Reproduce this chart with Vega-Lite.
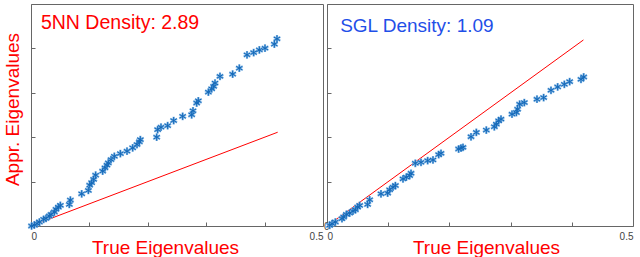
{
  "$schema": "https://vega.github.io/schema/vega-lite/v6.json",
  "padding": {"left": 2, "top": 3, "right": 0, "bottom": 0},
  "bounds": "flush",
  "spacing": 4,
  "background": "white",
  "config": {
    "view": {"stroke": "#666666", "strokeWidth": 1},
    "axis": {
      "grid": false,
      "domain": false,
      "tickSize": -4,
      "tickColor": "#666666",
      "labelFont": "Liberation Sans",
      "labelFontSize": 10,
      "labelColor": "#444444",
      "titleFont": "Liberation Sans",
      "titleFontSize": 19,
      "titleFontWeight": "normal",
      "titleColor": "#ff0000"
    },
    "axisX": {"labelPadding": 9}
  },
  "datasets": {
    "left": [
      {"x":0.001,"y":0.0},{"x":0.0057,"y":0.0045},{"x":0.0103,"y":0.0105},{"x":0.0143,"y":0.018},
      {"x":0.0217,"y":0.030},{"x":0.0257,"y":0.034},{"x":0.0314,"y":0.045},{"x":0.0342,"y":0.052},
      {"x":0.040,"y":0.063},{"x":0.0428,"y":0.075},{"x":0.0468,"y":0.085},{"x":0.0502,"y":0.093},
      {"x":0.0656,"y":0.097},{"x":0.0674,"y":0.117},{"x":0.0868,"y":0.145},{"x":0.0982,"y":0.160},
      {"x":0.1005,"y":0.184},{"x":0.1039,"y":0.195},{"x":0.1073,"y":0.210},{"x":0.1107,"y":0.229},
      {"x":0.1227,"y":0.247},{"x":0.1267,"y":0.262},{"x":0.1301,"y":0.274},{"x":0.1324,"y":0.284},
      {"x":0.137,"y":0.299},{"x":0.1427,"y":0.314},{"x":0.153,"y":0.326},{"x":0.1644,"y":0.337},
      {"x":0.1741,"y":0.352},{"x":0.1815,"y":0.367},{"x":0.1855,"y":0.379},{"x":0.1872,"y":0.389},
      {"x":0.2152,"y":0.400},{"x":0.2169,"y":0.434},{"x":0.2226,"y":0.445},{"x":0.234,"y":0.452},
      {"x":0.2443,"y":0.475},{"x":0.2597,"y":0.494},{"x":0.2751,"y":0.501},{"x":0.2774,"y":0.519},
      {"x":0.2837,"y":0.554},{"x":0.2865,"y":0.564},{"x":0.3037,"y":0.603},{"x":0.3094,"y":0.618},
      {"x":0.3128,"y":0.629},{"x":0.3151,"y":0.644},{"x":0.3236,"y":0.674},{"x":0.3453,"y":0.684},
      {"x":0.3567,"y":0.711},{"x":0.3699,"y":0.771},{"x":0.3813,"y":0.781},{"x":0.391,"y":0.793},
      {"x":0.4007,"y":0.801},{"x":0.4167,"y":0.819},{"x":0.4212,"y":0.843}
    ],
    "right": [
      {"x":0.0044,"y":0.0015},{"x":0.0082,"y":0.0052},{"x":0.0136,"y":0.009},{"x":0.0245,"y":0.0164},
      {"x":0.0272,"y":0.0202},{"x":0.0316,"y":0.0262},{"x":0.037,"y":0.0291},{"x":0.0425,"y":0.0336},
      {"x":0.0463,"y":0.0366},{"x":0.0501,"y":0.0426},{"x":0.0534,"y":0.0463},{"x":0.0664,"y":0.0486},
      {"x":0.0697,"y":0.059},{"x":0.0882,"y":0.0725},{"x":0.0991,"y":0.074},{"x":0.1024,"y":0.0815},
      {"x":0.1078,"y":0.0874},{"x":0.1117,"y":0.0912},{"x":0.1242,"y":0.1061},{"x":0.1296,"y":0.1099},
      {"x":0.1351,"y":0.1136},{"x":0.1373,"y":0.1188},{"x":0.1443,"y":0.1413},{"x":0.1536,"y":0.1435},
      {"x":0.1645,"y":0.1472},{"x":0.1732,"y":0.1487},{"x":0.1825,"y":0.1607},{"x":0.1863,"y":0.1637},
      {"x":0.2151,"y":0.1734},{"x":0.219,"y":0.1756},{"x":0.2222,"y":0.1771},{"x":0.2353,"y":0.201},
      {"x":0.244,"y":0.2108},{"x":0.2603,"y":0.216},{"x":0.2734,"y":0.2235},{"x":0.2767,"y":0.2294},
      {"x":0.2805,"y":0.2369},{"x":0.2843,"y":0.2407},{"x":0.3023,"y":0.2519},{"x":0.3094,"y":0.2556},
      {"x":0.3115,"y":0.2631},{"x":0.3148,"y":0.2743},{"x":0.3224,"y":0.278},{"x":0.3431,"y":0.2855},
      {"x":0.354,"y":0.2892},{"x":0.366,"y":0.3057},{"x":0.3769,"y":0.3132},{"x":0.3878,"y":0.3191},
      {"x":0.3965,"y":0.3251},{"x":0.415,"y":0.3303},{"x":0.4194,"y":0.3356}
    ],
    "lineL": [{"x":0,"y":0},{"x":0.4224,"y":0.4224}],
    "lineR": [{"x":0,"y":0},{"x":0.419,"y":0.419}],
    "labelL": [{"x":0.017,"y":0.887,"label":"5NN Density: 2.89"}],
    "labelR": [{"x":0.0215,"y":0.437,"label":"SGL Density: 1.09"}]
  },
  "hconcat": [
    {
      "width": 292,
      "height": 222,
      "encoding": {
        "x": {"field":"x","type":"quantitative","scale":{"domain":[0,0.5]},
              "axis":{"values":[0,0.1,0.2,0.3,0.4,0.5],"labelExpr":"datum.value == 0 ? '0' : datum.value == 0.5 ? '0.5' : ''","title":"True Eigenvalues","titleBaseline":"alphabetic","titleY":27,"titleX":134}},
        "y": {"field":"y","type":"quantitative","scale":{"domain":[0,1]},
              "axis":{"values":[0,0.2,0.4,0.6,0.8,1],"labels":false,"title":"Appr. Eigenvalues","titleBaseline":"alphabetic","titleX":-13,"titleY":105}}
      },
      "layer": [
        {"data":{"name":"lineL"},"mark":{"type":"line","color":"#ff0000","strokeWidth":1}},
        {"data":{"name":"left"},"mark":{"type":"point","shape":"M0,-1L0,1M-0.87,-0.5L0.87,0.5M-0.87,0.5L0.87,-0.5","filled":false,"stroke":"#7fb4e4","strokeWidth":2.2,"size":60,"opacity":1}},
        {"data":{"name":"left"},"mark":{"type":"point","shape":"M0,-1L0,1M-0.87,-0.5L0.87,0.5M-0.87,0.5L0.87,-0.5","filled":false,"stroke":"#1368b8","strokeWidth":1,"size":50,"opacity":1}},
        {"data":{"name":"labelL"},"mark":{"type":"text","align":"left","baseline":"alphabetic","font":"Liberation Sans","fontSize":19.5,"color":"#ff0000"},"encoding":{"text":{"field":"label"}}}
      ]
    },
    {
      "width": 306,
      "height": 222,
      "encoding": {
        "x": {"field":"x","type":"quantitative","scale":{"domain":[0,0.5]},
              "axis":{"values":[0,0.1,0.2,0.3,0.4,0.5],"labelExpr":"datum.value == 0 ? '0' : datum.value == 0.5 ? '0.5' : ''","title":"True Eigenvalues","titleBaseline":"alphabetic","titleY":27,"titleX":159}},
        "y": {"field":"y","type":"quantitative","scale":{"domain":[0,0.5]},
              "axis":{"values":[0,0.1,0.2,0.3,0.4,0.5],"labelExpr":"datum.value == 0 ? '0' : ''","title":null,"labelPadding":2}}
      },
      "layer": [
        {"data":{"name":"lineR"},"mark":{"type":"line","color":"#ff0000","strokeWidth":1}},
        {"data":{"name":"right"},"mark":{"type":"point","shape":"M0,-1L0,1M-0.87,-0.5L0.87,0.5M-0.87,0.5L0.87,-0.5","filled":false,"stroke":"#7fb4e4","strokeWidth":2.2,"size":60,"opacity":1}},
        {"data":{"name":"right"},"mark":{"type":"point","shape":"M0,-1L0,1M-0.87,-0.5L0.87,0.5M-0.87,0.5L0.87,-0.5","filled":false,"stroke":"#1368b8","strokeWidth":1,"size":50,"opacity":1}},
        {"data":{"name":"labelR"},"mark":{"type":"text","align":"left","baseline":"alphabetic","font":"Liberation Sans","fontSize":19,"color":"#1f4fe8"},"encoding":{"text":{"field":"label"}}}
      ]
    }
  ]
}
